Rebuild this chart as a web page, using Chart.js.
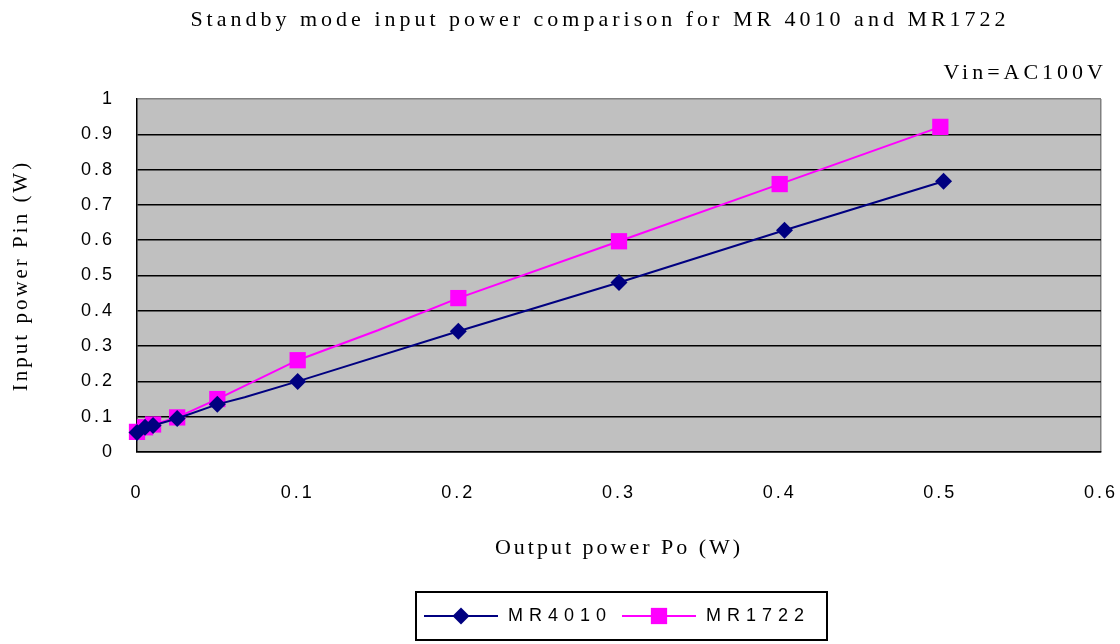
<!DOCTYPE html>
<html>
<head>
<meta charset="utf-8">
<script src="https://cdn.jsdelivr.net/npm/chart.js@4/dist/chart.umd.min.js"></script>
<style>
  html, body { margin: 0; padding: 0; background: #fff; }
  #wrap { width: 1120px; height: 644px; }
</style>
</head>
<body>
<div id="wrap"><canvas id="grafica" width="1120" height="644"></canvas></div>
<script>
const chartTitle = "Standby mode input power comparison for MR 4010 and MR1722";
const subTitle = "Vin=AC100V";
const xTitle = "Output power Po (W)";
const yTitle = "Input power Pin (W)";

const seriesNames = ["MR4010", "MR1722"];

// MR4010
const mr4010X = [0, 0.005, 0.01, 0.025, 0.05, 0.067, 0.1, 0.2, 0.3, 0.403, 0.502];
const mr4010Y = [0.055, 0.07, 0.075, 0.095, 0.135, 0.155, 0.2, 0.342, 0.48, 0.628, 0.767];
const mr4010Marker = [1, 1, 1, 1, 1, 0, 1, 1, 1, 1, 1];

// MR1722
const mr1722X = [0, 0.005, 0.01, 0.025, 0.05, 0.1, 0.15, 0.2, 0.3, 0.4, 0.5];
const mr1722Y = [0.057, 0.07, 0.078, 0.098, 0.15, 0.26, 0.345, 0.436, 0.597, 0.759, 0.921];
const mr1722Marker = [1, 1, 1, 1, 1, 1, 0, 1, 1, 1, 1];

const xTicks = [0, 0.1, 0.2, 0.3, 0.4, 0.5, 0.6];
const yTicks = [0, 0.1, 0.2, 0.3, 0.4, 0.5, 0.6, 0.7, 0.8, 0.9, 1];

const colores = ["#000080", "#FF00FF"];
const marcas = ["rectRot", "rect"];
const tamMarca = [8.5, 11.5];

const serif = "'Liberation Serif', 'DejaVu Serif', serif";
const sans = "'Liberation Sans', Arial, sans-serif";

function puntos(xs, ys) {
  return xs.map((x, i) => ({ x, y: ys[i] }));
}

// fondo gris del area de la grafica + espaciado de letras
const fondo = {
  id: "fondo",
  beforeDraw(chart) {
    const { ctx, chartArea: a } = chart;
    ctx.save();
    ctx.fillStyle = "#C0C0C0";
    ctx.fillRect(a.left, a.top, a.right - a.left, a.bottom - a.top);
    ctx.restore();
    ctx.letterSpacing = "3px";
  }
};

// titulo, subtitulo y leyenda con borde
const textos = {
  id: "textos",
  afterDraw(chart) {
    const ctx = chart.ctx;
    ctx.save();
    ctx.fillStyle = "#000";
    ctx.textBaseline = "middle";

    ctx.font = "22px " + serif;
    ctx.letterSpacing = "4px";
    let w = ctx.measureText(chartTitle).width - 4;
    ctx.textAlign = "left";
    ctx.fillText(chartTitle, 598 - w / 2, 20);

    w = ctx.measureText(subTitle).width - 4;
    ctx.fillText(subTitle, 1103 - w, 73);

    // leyenda
    ctx.letterSpacing = "0px";
    ctx.fillStyle = "#fff";
    ctx.fillRect(416, 592, 411, 48);
    ctx.strokeStyle = "#000";
    ctx.lineWidth = 2;
    ctx.strokeRect(416, 592, 411, 48);

    const xs = [424, 622];
    seriesNames.forEach((nombre, i) => {
      const x0 = xs[i];
      const yc = 616;
      ctx.strokeStyle = colores[i];
      ctx.lineWidth = 2;
      ctx.beginPath();
      ctx.moveTo(x0, yc);
      ctx.lineTo(x0 + 74, yc);
      ctx.stroke();
      ctx.fillStyle = colores[i];
      Chart.helpers.drawPoint(ctx, {
        pointStyle: marcas[i], radius: tamMarca[i], rotation: 0, borderWidth: 0
      }, x0 + 37, yc);
      ctx.fillStyle = "#000";
      ctx.font = "18px " + sans;
      ctx.letterSpacing = "6px";
      ctx.textAlign = "left";
      ctx.fillText(nombre, x0 + 84, yc);
      ctx.letterSpacing = "0px";
    });
    ctx.restore();
  }
};

const ctx = document.getElementById("grafica").getContext("2d");
new Chart(ctx, {
  type: "scatter",
  data: {
    datasets: [
      {
        label: seriesNames[0],
        data: puntos(mr4010X, mr4010Y),
        showLine: true,
        clip: false,
        borderColor: colores[0],
        backgroundColor: colores[0],
        borderWidth: 2,
        pointStyle: marcas[0],
        pointRadius: mr4010Marker.map(m => m * tamMarca[0]),
        pointBorderWidth: 0
      },
      {
        label: seriesNames[1],
        data: puntos(mr1722X, mr1722Y),
        showLine: true,
        clip: false,
        borderColor: colores[1],
        backgroundColor: colores[1],
        borderWidth: 2,
        pointStyle: marcas[1],
        pointRadius: mr1722Marker.map(m => m * tamMarca[1]),
        pointBorderWidth: 0
      }
    ]
  },
  options: {
    responsive: false,
    animation: false,
    layout: { padding: { left: 0, right: 19, top: 99, bottom: 72 } },
    plugins: {
      legend: { display: false },
      tooltip: { enabled: false }
    },
    scales: {
      x: {
        type: "linear",
        min: 0,
        max: 0.6,
        afterFit(scale) {
          scale.height = 120;
          scale.paddingLeft = 0;
          scale.paddingRight = 0;
        },
        afterBuildTicks(scale) { scale.ticks = xTicks.map(v => ({ value: v })); },
        ticks: {
          padding: 30,
          color: "#000",
          font: { family: sans, size: 18 },
          maxRotation: 0,
          callback: v => String(+v.toFixed(1))
        },
        grid: {
          drawTicks: false,
          color: c => Math.abs(c.tick.value - 0.6) < 1e-6 ? "#808080" : "rgba(0,0,0,0)",
          lineWidth: 1.5
        },
        border: { display: true, color: "#000", width: 1.5 },
        title: {
          display: true,
          text: xTitle,
          color: "#000",
          font: { family: serif, size: 22 },
          padding: { top: 0, bottom: 11 }
        }
      },
      y: {
        type: "linear",
        min: 0,
        max: 1,
        afterFit(scale) {
          scale.width = 137;
          scale.paddingTop = 0;
          scale.paddingBottom = 0;
        },
        afterBuildTicks(scale) { scale.ticks = yTicks.map(v => ({ value: v })); },
        ticks: {
          padding: 22,
          color: "#000",
          font: { family: sans, size: 18 },
          callback: v => String(+v.toFixed(1))
        },
        grid: {
          drawTicks: false,
          color: c => c.tick.value >= 0.999 ? "#808080" : "#000",
          lineWidth: 1.5
        },
        border: { display: true, color: "#000", width: 1.5 },
        title: {
          display: true,
          text: yTitle,
          color: "#000",
          font: { family: serif, size: 21 },
          padding: { top: 9, bottom: 0 }
        }
      }
    }
  },
  plugins: [fondo, textos]
});
</script>
</body>
</html>
